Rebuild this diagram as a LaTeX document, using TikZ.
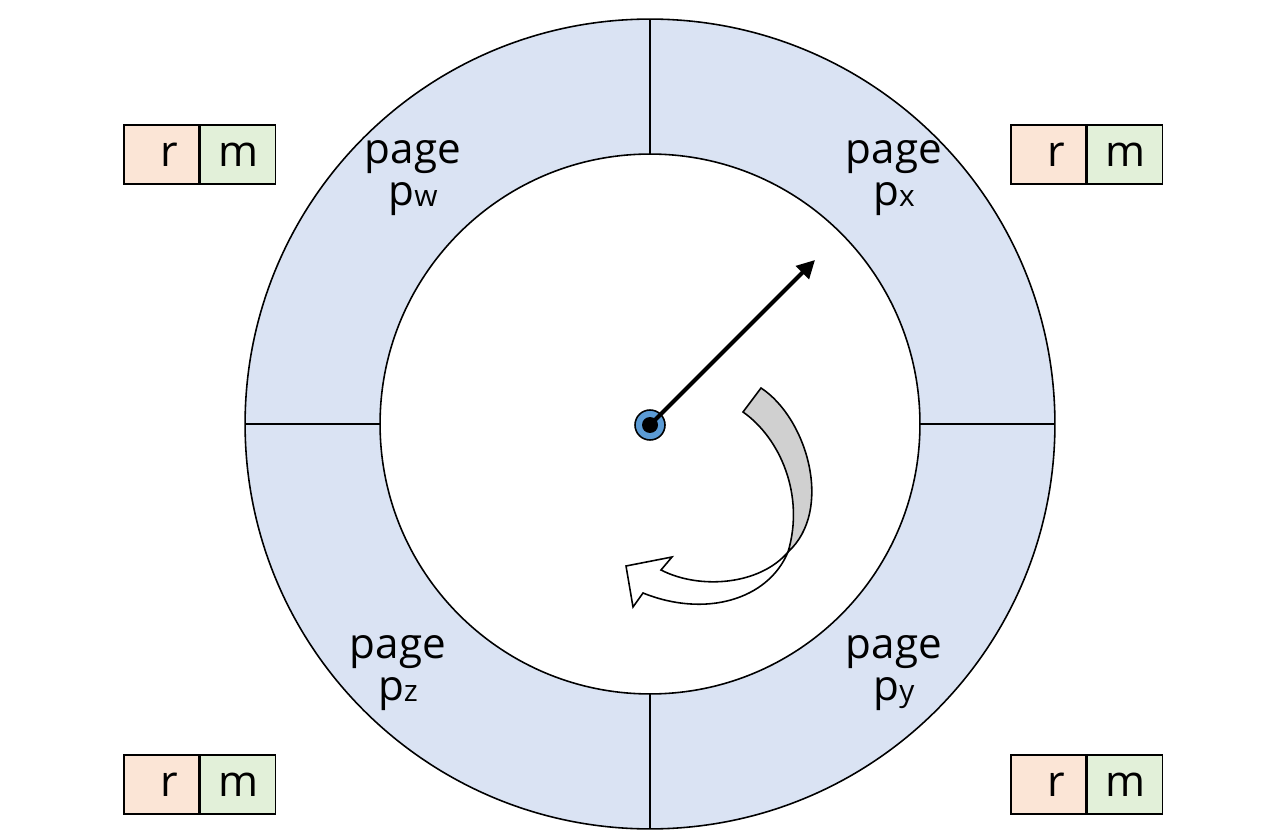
\documentclass[tikz,border=0pt]{standalone}
\usepackage{fontspec}
\setmainfont{Open Sans}
\usetikzlibrary{arrows.meta, positioning}

\definecolor{ringblue}{HTML}{DAE3F3}
\definecolor{rfill}{HTML}{FBE5D6}
\definecolor{mfill}{HTML}{E2F0D9}
\definecolor{hubblue}{HTML}{5B9BD5}
\definecolor{backgray}{HTML}{D0D0D0}

% page label with small index letter
\newcommand{\pglabel}[1]{page\\p\raisebox{-1pt}{\fontsize{17}{17}\selectfont #1}}

\begin{document}
\begin{tikzpicture}[x=0.02cm, y=-0.02cm, line width=0.9pt,
    cell/.style={rectangle, draw, minimum width=1.5cm, minimum height=1.18cm, inner sep=0pt, font=\fontsize{24.5}{24.5}\selectfont},
    rcell/.style={cell, fill=rfill, text width=0.66cm, align=right},
    mcell/.style={cell, fill=mfill},
    pagelabel/.style={align=center, inner sep=0pt, font=\fontsize{24}{23.5}\selectfont}]

    \useasboundingbox (0,0) rectangle (1280,837);

    % the ring of pages
    \coordinate (o) at (650,424);
    \draw[fill=ringblue] (o) circle [radius=8.1cm];
    \draw[fill=white] (o) circle [radius=5.4cm];
    \foreach \a in {0,90,180,270}
        \draw (o) ++(\a:5.4cm) -- ++(\a:2.7cm);

    \node (pw) [pagelabel] at (413,178) {\pglabel{w}};
    \node (px) [pagelabel] at (894,178) {\pglabel{x}};
    \node (pz) [pagelabel] at (398,673) {\pglabel{z}};
    \node (py) [pagelabel] at (894,673) {\pglabel{y}};

    % r/m bits
    \node (r1) [rcell] at (161.5,154.5) {\raisebox{-2pt}{r}};
    \node (m1) [mcell, right=0pt of r1] {\raisebox{-2pt}{m}};
    \node (r2) [rcell] at (1048.5,154.5) {\raisebox{-2pt}{r}};
    \node (m2) [mcell, right=0pt of r2] {\raisebox{-2pt}{m}};
    \node (r3) [rcell] at (161.5,784.5) {\raisebox{-2pt}{r}};
    \node (m3) [mcell, right=0pt of r3] {\raisebox{-2pt}{m}};
    \node (r4) [rcell] at (1048.5,784.5) {\raisebox{-2pt}{r}};
    \node (m4) [mcell, right=0pt of r4] {\raisebox{-2pt}{m}};

    % clock hand
    \node (hub) [circle, draw, fill=hubblue, minimum size=0.6cm, inner sep=0pt] at (650,425) {};
    \fill (hub.center) circle [radius=0.16cm];
    \coordinate (hand) at (815,260);
    \draw[line width=2.3pt, -{Triangle[length=0.36cm, width=0.36cm]}] (hub.center) -- (hand);

    % turning arrow
    \draw[fill=backgray] (761,388) .. controls (807,418) and (834,510) .. (788,552)
        .. controls (805,495) and (780,438) .. (743,412) -- cycle;
    \draw[fill=white] (788,552) .. controls (768,600) and (705,618) .. (643,593)
        -- (633,607) -- (626,566) -- (672,557) -- (661,570)
        .. controls (700,590) and (760,585) .. (788,552) -- cycle;
\end{tikzpicture}
\end{document}
